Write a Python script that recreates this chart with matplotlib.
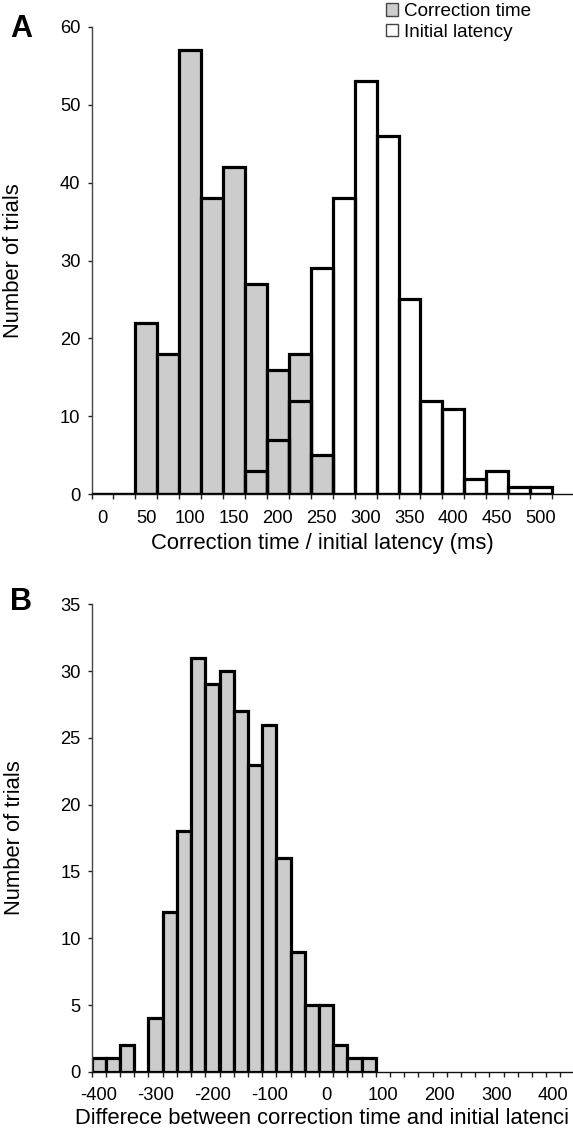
import matplotlib
matplotlib.use('Agg')
import matplotlib.pyplot as plt
from matplotlib.patches import Patch

plt.rcParams['font.family'] = ['Liberation Sans', 'DejaVu Sans']

# panel A: 25 ms bins, counts
bins_a = [0, 25, 50, 75, 100, 125, 150, 175, 200, 225, 250,
          275, 300, 325, 350, 375, 400, 425, 450, 475, 500]
correction_time = [0, 0, 22, 18, 57, 38, 42, 27, 16, 18, 5,
                   0, 0, 0, 0, 0, 0, 0, 0, 0, 0]
initial_latency = [0, 0, 0, 0, 0, 0, 0, 3, 7, 12, 29,
                   38, 53, 46, 25, 12, 11, 2, 3, 1, 1]
labels_a = [0, 50, 100, 150, 200, 250, 300, 350, 400, 450, 500]

# panel B: difference (correction - initial), 25 ms bins
bins_b = [-400, -375, -350, -325, -300, -275, -250, -225, -200, -175,
          -150, -125, -100, -75, -50, -25, 0, 25, 50, 75]
diff_counts = [1, 1, 2, 0, 4, 12, 18, 31, 29, 30,
               27, 23, 26, 16, 9, 5, 5, 2, 1, 1]
labels_b = [-400, -300, -200, -100, 0, 100, 200, 300, 400]

W, H = 573, 1133
grey = '#cccccc'
edge_lw = 2.3
tick_fs = 13.2
lab_fs = 15.8

fig = plt.figure(figsize=(W / 100, H / 100), dpi=100)


def style_axes(ax, left, right, step, label_vals):
    for s in ['top', 'right']:
        ax.spines[s].set_visible(False)
    ax.spines['left'].set_color('#444444')
    ax.spines['left'].set_linewidth(1.0)
    ax.spines['bottom'].set_color('#111111')
    ax.spines['bottom'].set_linewidth(1.0)
    # category boundaries as ticks, labels centred in the category
    edges = []
    e = left
    while e <= right + 1e-6:
        edges.append(e)
        e += step
    ax.set_xticks(edges)
    ax.set_xticklabels([])
    ax.set_xticks(label_vals, minor=True)
    ax.set_xticklabels([str(v) for v in label_vals], minor=True, fontsize=tick_fs)
    ax.tick_params(axis='x', which='major', direction='out', length=3.5,
                   width=1.0, color='#222222')
    ax.tick_params(axis='x', which='minor', length=0, pad=11)
    ax.tick_params(axis='y', direction='out', length=3, width=1.0,
                   color='#222222', labelsize=tick_fs, pad=5)
    ax.set_xlim(left, right)


# ---- panel A ----
axA = fig.add_axes([91.5 / W, 1 - 494.3 / H, 482.5 / W, 467.6 / H])
axA.bar(bins_a, correction_time, width=25, color=grey, edgecolor='black',
        linewidth=edge_lw, zorder=2)
axA.bar(bins_a, initial_latency, width=25, facecolor='none', edgecolor='black',
        linewidth=edge_lw, zorder=3)
style_axes(axA, -12.5, 537.5, 25, labels_a)
axA.set_ylim(0, 60)
axA.set_yticks(range(0, 61, 10))
axA.set_ylabel('Number of trials', fontsize=lab_fs)
axA.yaxis.set_label_coords(-0.14, 0.5)
axA.set_xlabel('Correction time / initial latency (ms)', fontsize=lab_fs)
axA.xaxis.set_label_coords(0.478, -0.083)

handles = [Patch(facecolor=grey, edgecolor='#444444', linewidth=1.0),
           Patch(facecolor='white', edgecolor='#444444', linewidth=1.0)]
fig.legend(handles, ['Correction time', 'Initial latency'],
           loc='upper left', bbox_to_anchor=(386 / W, 1 - 3 / H),
           frameon=False, fontsize=13.6, handlelength=0.65, handleheight=0.65,
           handletextpad=0.3, labelspacing=0.2, borderpad=0, borderaxespad=0)

fig.text(21 / W, 1 - 29 / H, 'A', fontsize=22, fontweight='bold',
         ha='center', va='center')

# ---- panel B ----
axB = fig.add_axes([91.7 / W, 1 - 1071.8 / H, 539.6 / W, 467.5 / H])
axB.bar(bins_b, diff_counts, width=25, color=grey, edgecolor='black',
        linewidth=edge_lw, zorder=2)
style_axes(axB, -412.5, 537.5, 25, labels_b)
axB.set_ylim(0, 35)
axB.set_yticks(range(0, 36, 5))
axB.set_ylabel('Number of trials', fontsize=lab_fs)
axB.yaxis.set_label_coords(-0.124, 0.5)
# the original figure is cropped on the right, so only this part of the label shows
fig.text(75 / W, 1 - 1108 / H, 'Differece between correction time and initial latenci',
         fontsize=lab_fs, ha='left', va='top')

fig.text(21.5 / W, 1 - 602.5 / H, 'B', fontsize=22, fontweight='bold',
         ha='center', va='center')

fig.savefig('out.png', dpi=100)
